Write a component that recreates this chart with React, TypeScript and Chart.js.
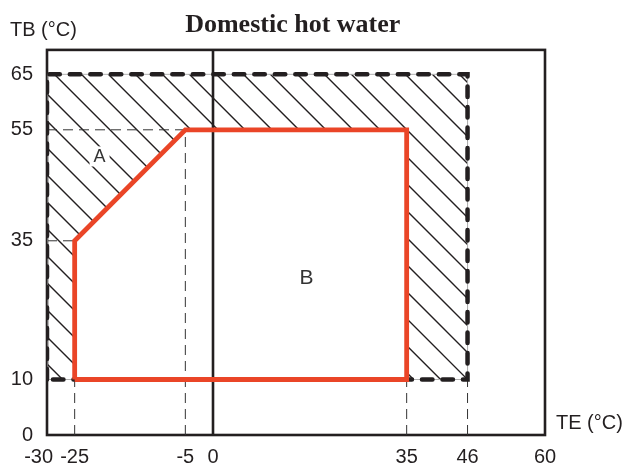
import React, { useEffect, useRef } from "react";
import { Chart, registerables } from "chart.js";

Chart.register(...registerables);

// ---- data ----
const xTickValues = [-30, -25, -5, 0, 35, 46, 60];
const yTickValues = [0, 10, 35, 55, 65];
const xMin = -30;
const xMax = 60;
const yMin = 0;
const yMax = 69.4;

// operating envelope (red)
const envelopeX = [-25, -25, -5, 35, 35, -25];
const envelopeY = [10, 35, 55, 55, 10, 10];

// limit rectangle (thick dashed)
const limitX = [-30, -30, 46, 46, -30];
const limitY = [10, 65, 65, 10, 10];

// vertical zero line
const zeroLineX = [0, 0];
const zeroLineY = [yMin, yMax];

// thin dashed guide segments
const guideStartX = [-25, -5, 35, 46, -30, -30];
const guideStartY = [0, 0, 0, 0, 55, 35];
const guideEndX = [-25, -5, 35, 46, -5, -25];
const guideEndY = [10, 55, 10, 10, 55, 35];

// region labels
const regionLabels = ["A", "B"];
const regionLabelX = [-20.5, 16.9];
const regionLabelY = [50.2, 28.5];

const titleText = "Domestic hot water";
const yAxisTitle = "TB (°C)";
const xAxisTitle = "TE (°C)";

const INK = "#231f20";
const RED = "#ea4527";
const SANS = "'Liberation Sans', Arial, sans-serif";

const toPoints = (xs: number[], ys: number[]) => xs.map((x, i) => ({ x, y: ys[i] }));

const hatchPlugin = {
  id: "hatchAndFrame",
  beforeDatasetsDraw(chart: any) {
    const { ctx, chartArea, scales } = chart;
    const sx = scales.x;
    const sy = scales.y;
    const px = (v: number) => sx.getPixelForValue(v);
    const py = (v: number) => sy.getPixelForValue(v);

    // hatch region = limit rectangle minus envelope
    ctx.save();
    ctx.beginPath();
    ctx.moveTo(px(limitX[0]), py(limitY[0]));
    for (let i = 1; i < limitX.length; i++) ctx.lineTo(px(limitX[i]), py(limitY[i]));
    ctx.closePath();
    ctx.moveTo(px(envelopeX[0]), py(envelopeY[0]));
    for (let i = 1; i < envelopeX.length; i++) ctx.lineTo(px(envelopeX[i]), py(envelopeY[i]));
    ctx.closePath();
    ctx.clip("evenodd");
    ctx.strokeStyle = INK;
    ctx.lineWidth = 1.4;
    const top = chartArea.top;
    const bottom = chartArea.bottom;
    const spacing = 27;
    const base = chartArea.left - chartArea.top + 10;
    ctx.beginPath();
    for (let k = -30; k < 40; k++) {
      const c = base + spacing * k;
      ctx.moveTo(c + top, top);
      ctx.lineTo(c + bottom, bottom);
    }
    ctx.stroke();
    ctx.restore();

    // frame
    ctx.save();
    ctx.strokeStyle = INK;
    ctx.lineWidth = 2.6;
    ctx.strokeRect(chartArea.left, chartArea.top, chartArea.right - chartArea.left, chartArea.bottom - chartArea.top);
    ctx.restore();
  },
  afterDatasetsDraw(chart: any) {
    const { ctx, chartArea, scales } = chart;
    const sx = scales.x;
    const sy = scales.y;
    ctx.save();
    regionLabels.forEach((label, i) => {
      const x = sx.getPixelForValue(regionLabelX[i]);
      const y = sy.getPixelForValue(regionLabelY[i]);
      ctx.font = `${i === 0 ? 18 : 21}px ${SANS}`;
      const w = ctx.measureText(label).width;
      ctx.fillStyle = "#ffffff";
      ctx.fillRect(x - w / 2 - 4, y - 10, w + 8, 20);
      ctx.fillStyle = "#333333";
      ctx.textAlign = "center";
      ctx.textBaseline = "middle";
      ctx.fillText(label, x, y + 1);
    });
    // axis titles
    ctx.font = `20px ${SANS}`;
    ctx.fillStyle = INK;
    ctx.textBaseline = "middle";
    ctx.textAlign = "left";
    ctx.fillText(yAxisTitle, 10, chartArea.top - 19);
    ctx.fillText(xAxisTitle, chartArea.right + 11, chartArea.bottom - 12);
    ctx.restore();
  },
};

export default function App() {
  const canvasRef = useRef<HTMLCanvasElement | null>(null);

  useEffect(() => {
    const canvas = canvasRef.current;
    if (!canvas) return;

    const lineBase = {
      showLine: true,
      pointRadius: 0,
      pointHoverRadius: 0,
      fill: false,
      tension: 0,
    };

    const guideDatasets = guideStartX.map((x1, i) => ({
      ...lineBase,
      label: `guide${i}`,
      data: [
        { x: x1, y: guideStartY[i] },
        { x: guideEndX[i], y: guideEndY[i] },
      ],
      borderColor: "#333333",
      borderWidth: 1,
      borderDash: [10, 6],
    }));

    const chart = new Chart(canvas, {
      type: "scatter",
      data: {
        datasets: [
          {
            ...lineBase,
            label: "envelope",
            data: toPoints(envelopeX, envelopeY),
            borderColor: RED,
            borderWidth: 4.8,
            borderJoinStyle: "miter",
            borderCapStyle: "butt",
          },
          {
            ...lineBase,
            label: "limit",
            data: toPoints(limitX, limitY),
            borderColor: INK,
            borderWidth: 4.5,
            borderDash: [10.5, 10],
            borderCapStyle: "round",
          },
          {
            ...lineBase,
            label: "limitThin",
            data: toPoints(limitX, limitY),
            borderColor: "#b0b0b0",
            borderWidth: 1,
          },
          {
            ...lineBase,
            label: "zero",
            data: toPoints(zeroLineX, zeroLineY),
            borderColor: INK,
            borderWidth: 2.6,
          },
          ...guideDatasets,
        ] as any,
      },
      options: {
        animation: false,
        responsive: false,
        devicePixelRatio: 1,
        layout: { padding: { left: 8, right: 83, top: 0, bottom: 0 } },
        plugins: {
          legend: { display: false },
          tooltip: { enabled: false },
          title: {
            display: true,
            text: "\u00a0\u00a0\u00a0\u00a0\u00a0" + titleText,
            color: INK,
            font: { family: "'Liberation Serif', 'Times New Roman', serif", size: 26, weight: "bold", lineHeight: 1.15 },
            padding: { top: 10, bottom: 10 },
          },
        },
        scales: {
          x: {
            type: "linear",
            min: xMin,
            max: xMax,
            grid: { display: false, drawTicks: false },
            border: { display: false },
            afterBuildTicks: (scale: any) => {
              scale.ticks = xTickValues.map((value) => ({ value }));
            },
            afterFit: (scale: any) => {
              scale.height = 33;
            },
            ticks: {
              autoSkip: false,
              maxRotation: 0,
              minRotation: 0,
              padding: 10,
              color: INK,
              font: { family: SANS, size: 20, lineHeight: 1.2 },
              callback: (v: any) => (Number(v) === -30 ? "-30\u00a0\u00a0\u00a0" : String(v)),
            },
          },
          y: {
            type: "linear",
            min: yMin,
            max: yMax,
            grid: { display: false, drawTicks: false },
            border: { display: false },
            afterBuildTicks: (scale: any) => {
              scale.ticks = yTickValues.map((value) => ({ value }));
            },
            afterFit: (scale: any) => {
              scale.width = 39;
            },
            ticks: {
              autoSkip: false,
              padding: 14,
              color: INK,
              font: { family: SANS, size: 20, lineHeight: 1.2 },
              callback: (v: any) => String(v),
            },
          },
        },
      } as any,
      plugins: [hatchPlugin],
    });

    return () => chart.destroy();
  }, []);

  return (
    <div style={{ position: "absolute", left: 0, top: 0, width: 628, height: 468, background: "#fff" }}>
      <canvas ref={canvasRef} width={628} height={468} style={{ width: 628, height: 468, display: "block" }} />
    </div>
  );
}
